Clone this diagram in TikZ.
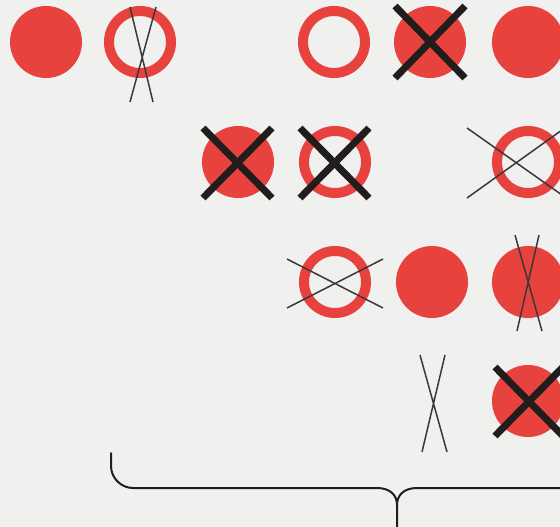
\documentclass[tikz,border=0pt]{standalone}
\usepackage{xcolor}
\usepackage{tikz}
\usetikzlibrary{calc}
\definecolor{paper}{HTML}{F0F0EE}
\definecolor{signal}{HTML}{E8423F}
\definecolor{ink}{HTML}{221D1D}
\definecolor{pencil}{HTML}{3A3838}
\tikzset{
  disc/.style={circle,fill=signal,minimum size=72pt,inner sep=0pt,outer sep=0pt},
  ring/.style={circle,draw=signal,line width=10pt,minimum size=62pt,inner sep=0pt,outer sep=0pt},
  heavy/.style={draw=ink,line width=7pt},
  fine/.style={draw=pencil,line width=1.5pt},
  brace/.style={draw=ink,line width=2pt,line cap=round}
}

\begin{document}
\begin{tikzpicture}[x=1pt,y=-1pt]
  \useasboundingbox (0,0) rectangle (560,527);
  \clip (0,0) rectangle (560,527);
  \fill[paper] (0,0) rectangle (560,527);
  % top row
  \node[disc] (a1) at (46,42) {};
  \node[ring] (a2) at (140,42) {};
  \node[ring] (a3) at (334,42) {};
  \node[disc] (a4) at (430,42) {};
  \node[disc] (a5) at (528,42) {};
  \draw[fine] (130,7)--(153,102) (156,7)--(130,102);
  \draw[heavy] (395,6)--(465,78) (465,6)--(395,78);
  % second row
  \node[disc] (b1) at (238,162) {};
  \node[ring] (b2) at (335,162) {};
  \node[ring] (b3) at (528,162) {};
  \draw[heavy] (203,128)--(272,198) (272,128)--(203,198);
  \draw[heavy] (300,128)--(369,198) (369,128)--(300,198);
  \draw[fine] (467,128)--(562,195) (467,198)--(562,130);
  % third row
  \node[ring] (c1) at (335,282) {};
  \node[disc] (c2) at (432,282) {};
  \node[disc] (c3) at (528,282) {};
  \draw[fine] (287,259)--(383,308) (287,308)--(383,259);
  \draw[fine] (515,235)--(542,331) (539,235)--(517,331);
  % fourth row
  \draw[fine] (420,355)--(447,452) (445,355)--(422,452);
  \node[disc] (d1) at (528,401) {};
  \draw[heavy] (495,367)--(563,436) (495,436)--(563,367);
  % brace
  \draw[brace] (111,453)--(111,466) .. controls (111,478) and (121,488) .. (133,488)
    --(377,488) .. controls (390,488) and (397,495) .. (397,505)--(397,530);
  \draw[brace] (397,505) .. controls (397,495) and (404,488) .. (417,488)--(565,488);
\end{tikzpicture}
\end{document}
